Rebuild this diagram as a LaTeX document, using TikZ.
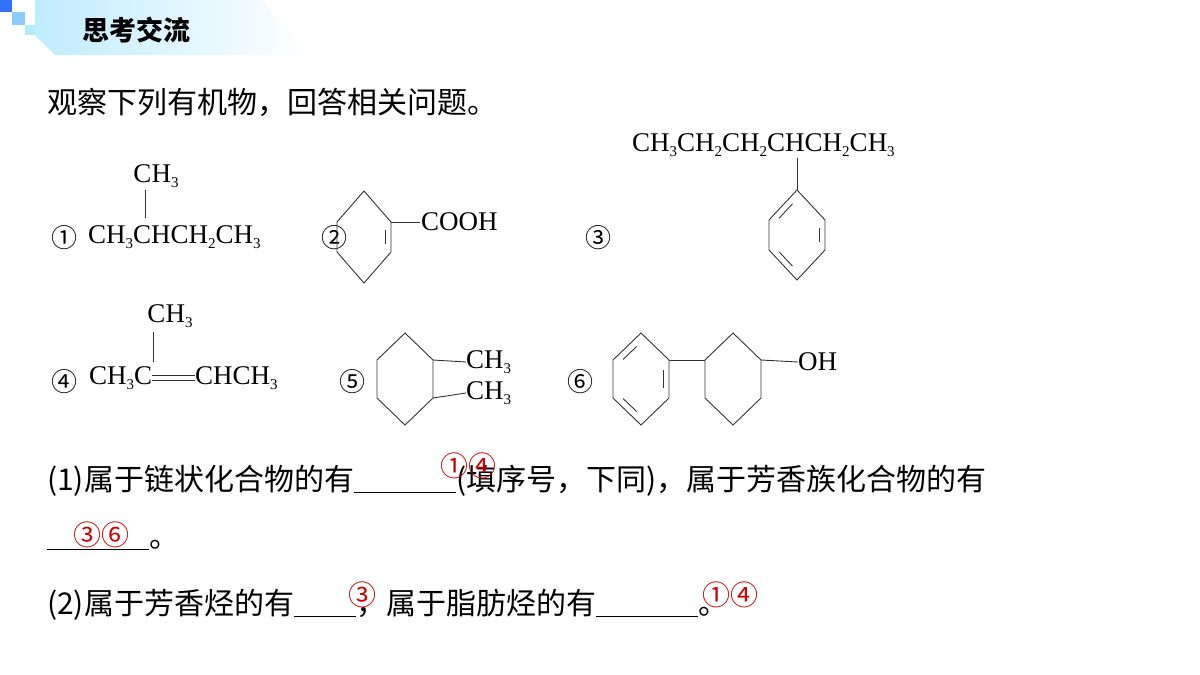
\documentclass[tikz,border=0pt]{standalone}
\usepackage{fontspec}
\setmainfont{Liberation Serif}
\newfontfamily\cjk{Noto Sans CJK SC}
\usetikzlibrary{calc}
\newcommand{\chs}[1]{\raisebox{-0.35ex}{\fontsize{15}{15}\selectfont #1}}
\newcommand{\blank}[1]{\underline{\hspace{#1pt}}}
\tikzset{
  bond/.style={line width=0.9pt, black!80},
  chem/.style={inner sep=0pt, font=\fontsize{27}{27}\selectfont},
  txt/.style={inner sep=0pt, anchor=west, font=\cjk\fontsize{30}{30}\selectfont},
  ans/.style={inner sep=0pt, text=red!80!black, font=\cjk\fontsize{28}{28}\selectfont},
  num/.style={inner sep=0pt, font=\cjk\fontsize{26}{26}\selectfont}
}
% ring: name, cx, cy, half-width, half-height, half-side
\newcommand{\ring}[6]{
  \coordinate (#1c) at (#2,#3);
  \coordinate (#11) at (#2,#3-#5);
  \coordinate (#12) at (#2+#4,#3-#6);
  \coordinate (#13) at (#2+#4,#3+#6);
  \coordinate (#14) at (#2,#3+#5);
  \coordinate (#15) at (#2-#4,#3+#6);
  \coordinate (#16) at (#2-#4,#3-#6);
  \draw[bond] (#11) -- (#12) -- (#13) -- (#14) -- (#15) -- (#16) -- cycle;
}
\newcommand{\dbl}[3]{
  \draw[bond] ($($(#1)!.2!(#2)$)!.2!(#3)$) -- ($($(#1)!.8!(#2)$)!.2!(#3)$);
}
\begin{document}
\begin{tikzpicture}[x=1pt, y=-1pt]
\useasboundingbox (0,0) rectangle (1200,675);
% header
\shade[left color=blue!30!cyan!25, right color=white, draw=none]
  (35,0) -- (262,0) -- (310,55) -- (55,55) -- (35,35) -- cycle;
\fill[blue!70!cyan!80] (0,0) rectangle (12,12);
\fill[blue!45!cyan!45] (12,12) rectangle (25,25);
\fill[blue!25!cyan!30] (25,25) rectangle (35,35);
\node[txt, font=\cjk\bfseries\fontsize{27}{27}\selectfont] (title) at (82,30) {思考交流};
\node[txt] (intro) at (47,102) {观察下列有机物，回答相关问题。};

% 1
\node[num] (n1) at (64,238) {①};
\node[chem, anchor=west] (m1) at (88,237) {CH\chs{3}CHCH\chs{2}CH\chs{3}};
\node[chem] (m1t) at (156,176) {CH\chs{3}};
\coordinate (m1a) at (145,190);
\coordinate (m1b) at (145,218);
\draw[bond] (m1a) -- (m1b);

% 2
\node[num] (n2) at (334,238) {②};
\ring{r}{364}{237}{27}{46}{15}
\dbl{r2}{r3}{rc}
\coordinate (rx) at (420,222);
\draw[bond] (r2) -- (rx);
\node[chem, anchor=west] (cooh) at (421,222) {COOH};

% 3
\node[num] (n3) at (598,238) {③};
\node[chem, anchor=west] (m3) at (632,145) {CH\chs{3}CH\chs{2}CH\chs{2}CHCH\chs{2}CH\chs{3}};
\coordinate (m3a) at (797,158);
\ring{b}{797}{235}{28}{45}{15}
\draw[bond] (m3a) -- (b1);
\dbl{b6}{b1}{bc}
\dbl{b2}{b3}{bc}
\dbl{b4}{b5}{bc}

% 4
\node[num] (n4) at (64,382) {④};
\node[chem, anchor=west] (m4l) at (89,378) {CH\chs{3}C};
\node[chem, anchor=west] (m4r) at (195,378) {CHCH\chs{3}};
\node[chem] (m4t) at (170,316) {CH\chs{3}};
\coordinate (m4a) at (153,332);
\coordinate (m4b) at (153,362);
\draw[bond] (m4a) -- (m4b);
\draw[bond] ($(m4l.east)+(0,-3)$) -- ($(m4r.west)+(0,-3)$);
\draw[bond] ($(m4l.east)+(0,2)$) -- ($(m4r.west)+(0,2)$);

% 5
\node[num] (n5) at (352,382) {⑤};
\ring{c}{405}{379}{28}{46}{19}
\node[chem, anchor=west] (m5a) at (466,362) {CH\chs{3}};
\node[chem, anchor=west] (m5b) at (466,393) {CH\chs{3}};
\draw[bond] (c2) -- (m5a.west);
\draw[bond] (c3) -- (m5b.west);

% 6
\node[num] (n6) at (580,382) {⑥};
\ring{p}{641}{379}{28}{46}{19}
\dbl{p6}{p1}{pc}
\dbl{p2}{p3}{pc}
\dbl{p4}{p5}{pc}
\ring{h}{733}{379}{28}{46}{19}
\draw[bond] (p2) -- (h6);
\node[chem, anchor=west] (oh) at (798,362) {OH};
\draw[bond] (h2) -- (oh.west);

% questions
\node[txt] (q1) at (47,481) {(1)属于链状化合物的有\blank{102}(填序号，下同)，属于芳香族化合物的有};
\node[ans] (a1) at (468,466) {①④};
\node[txt] (q1b) at (47,545) {\blank{102}。};
\node[ans] (a2) at (101,535) {③⑥};
\node[txt] (q2) at (47,605) {(2)属于芳香烃的有\blank{62}，属于脂肪烃的有\blank{102}。};
\node[ans] (a3) at (362,595) {③};
\node[ans] (a4) at (730,595) {①④};
\end{tikzpicture}
\end{document}
